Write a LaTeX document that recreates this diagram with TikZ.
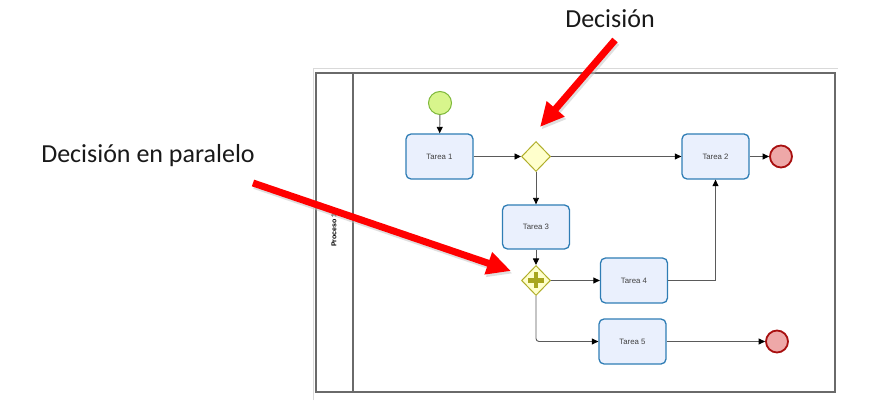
\documentclass[tikz,border=0pt]{standalone}
\usepackage{fontspec}
\setmainfont{Liberation Sans}
\newfontfamily\calib{Carlito}
\usetikzlibrary{arrows.meta,shapes.geometric,calc}
\definecolor{taskborder}{HTML}{2F7DB5}
\definecolor{taskfill}{HTML}{EAF0FD}
\definecolor{gwborder}{HTML}{B0AE2A}
\definecolor{gwfill}{HTML}{FFFFCC}
\definecolor{plusfill}{HTML}{A8A61E}
\definecolor{startborder}{HTML}{7EB83A}
\definecolor{startfill}{HTML}{D8F58C}
\definecolor{endborder}{HTML}{A80F0F}
\definecolor{endfill}{HTML}{EEA8A8}
\definecolor{flowgray}{HTML}{5A5A5A}
\definecolor{poolgray}{HTML}{6A6A6A}
\definecolor{redarrow}{HTML}{FF0000}
\begin{document}
\begin{tikzpicture}[x=1pt,y=-1pt,
  task/.style={draw=taskborder, fill=taskfill, line width=1.3pt, rounded corners=5pt,
    minimum width=67pt, minimum height=45pt, inner sep=0pt,
    font=\fontsize{7.8}{9}\selectfont, text=black!75},
  gw/.style={diamond, draw=gwborder, fill=gwfill, line width=1pt,
    minimum width=29pt, minimum height=30pt, inner sep=0pt},
  startev/.style={circle, draw=startborder, fill=startfill, line width=1pt,
    minimum size=23pt, inner sep=0pt},
  endev/.style={circle, draw=endborder, fill=endfill, line width=1.8pt,
    minimum size=22pt, inner sep=0pt},
  flow/.style={draw=flowgray, line width=0.9pt, -{Triangle[length=6.5pt,width=6pt,black]}},
  callout/.style={draw=redarrow, line width=7pt, -{Triangle[length=24pt,width=22pt,fill=redarrow]}},
  calloutshadow/.style={draw=black!25, opacity=0.5, line width=7pt, -{Triangle[length=24pt,width=22pt]}},
  lbl/.style={font=\calib\fontsize{26}{30}\selectfont, text=black!90}
]
\useasboundingbox (0,0) rectangle (878,403);
% faint outer frame
\draw[black!15, line width=0.6pt] (313,400) -- (313,68) -- (838,68);
% pool
\draw[poolgray, line width=1.2pt] (316,73) rectangle (835,392);
\draw[poolgray, line width=1.2pt] (353,73) -- (353,392);
\node[rotate=90, font=\bfseries\fontsize{7}{8}\selectfont] (pool) at (334,230) {Proceso 1};

% nodes
\node[startev] (start) at (440,103) {};
\node[task] (t1) at (439.5,156.5) {Tarea 1};
\node[gw] (g1) at (536,156.5) {};
\node[task] (t2) at (715.5,156.5) {Tarea 2};
\node[endev] (e1) at (781,156.5) {};
\node[task, minimum height=44pt] (t3) at (536,227) {Tarea 3};
\node[gw] (g2) at (536,280.5) {};
\draw[plusfill, line width=4.5pt] (g2.center) ++(-8,0) -- ++(16,0);
\draw[plusfill, line width=4.5pt] (g2.center) ++(0,-8) -- ++(0,16);
\node[task] (t4) at (634,280.5) {Tarea 4};
\node[task] (t5) at (632.5,341.5) {Tarea 5};
\node[endev] (e2) at (777,341.5) {};

% flows
\draw[flow] (start) -- (t1);
\draw[flow] (t1) -- (g1);
\draw[flow] (g1) -- (t2);
\draw[flow] (t2) -- (e1);
\draw[flow] (g1) -- (t3);
\draw[flow] (t3) -- (g2);
\draw[flow] (g2) -- (t4);
\draw[flow] (t4.east) -| (t2.south);
\draw[flow, rounded corners=3pt] (g2.south) |- (t5.west);
\draw[flow] (t5) -- (e2);

% callout labels
\node[lbl] (ldec) at (610,19) {Decisión};
\node[lbl] (lpar) at (148,156) {Decisión en paralelo};
\coordinate (d0) at (615,40);
\coordinate (d1) at (540,127);
\coordinate (p0) at (253,183);
\coordinate (p1) at (511,271);
\draw[calloutshadow] ($(d0)+(1.5,2.5)$) -- ($(d1)+(1.5,2.5)$);
\draw[calloutshadow] ($(p0)+(1.5,2.5)$) -- ($(p1)+(1.5,2.5)$);
\draw[callout] (d0) -- (d1);
\draw[callout] (p0) -- (p1);
\end{tikzpicture}
\end{document}
